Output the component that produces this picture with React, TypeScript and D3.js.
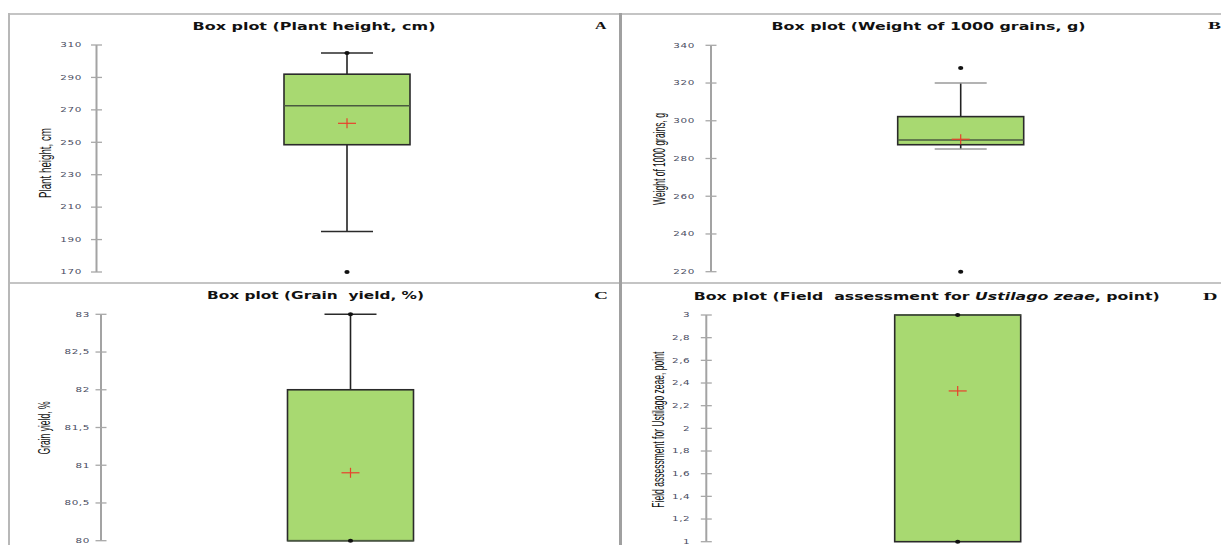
import React from "react";
import * as d3 from "d3";

// ---- data ----
const panelLetters = ["A", "B", "C", "D"];
const titles = [
  "Box plot (Plant height, cm)",
  "Box plot (Weight of 1000 grains, g)",
  "Box plot (Grain  yield, %)",
  "Box plot (Field  assessment for |Ustilago zeae|, point)",
];
const yLabels = [
  "Plant height, cm",
  "Weight of 1000 grains, g",
  "Grain yield, %",
  "Field assessment for Ustilago zeae, point",
];
const yDomains: [number, number][] = [
  [170, 310],
  [220, 340],
  [80, 83],
  [1, 3],
];
const tickA = [170, 190, 210, 230, 250, 270, 290, 310];
const tickB = [220, 240, 260, 280, 300, 320, 340];
const tickC = [80, 80.5, 81, 81.5, 82, 82.5, 83];
const tickD = [1, 1.2, 1.4, 1.6, 1.8, 2, 2.2, 2.4, 2.6, 2.8, 3];
const ticks = [tickA, tickB, tickC, tickD];
const whiskerLow = [195, 285, 80, 1];
const q1 = [248.5, 287.3, 80, 1];
const medians = [272.5, 289.8, 80, 3];
const q3 = [292, 302.2, 82, 3];
const whiskerHigh = [305, 320, 83, 3];
const means = [261.7, 290.2, 80.9, 2.33];
const pointsA = [170, 305];
const pointsB = [220, 328];
const pointsC = [80, 83];
const pointsD = [1, 3];
const points = [pointsA, pointsB, pointsC, pointsD];

// ---- layout ----
const layout = [
  { axisX: 96.5, yTop: 45, yBot: 272, cx: 347, labelGap: 14.5, titleX: 314, titleW: 243, titleY: 30, letterX: 595, letterY: 28.5, letterW: 11.5, ylX: 45.5, ylY: 163, ylW: 70, capColor: "#2a2a2a" },
  { axisX: 711, yTop: 45.3, yBot: 271.7, cx: 960.7, labelGap: 16, titleX: 928.5, titleW: 314, titleY: 30, letterX: 1208, letterY: 28.5, letterW: 13, ylX: 659.5, ylY: 159, ylW: 92, capColor: "#9a9a9a" },
  { axisX: 101, yTop: 314.3, yBot: 540.7, cx: 350.5, labelGap: 11, titleX: 315.5, titleW: 217, titleY: 299, letterX: 594, letterY: 298.5, letterW: 14, ylX: 44.5, ylY: 428, ylW: 53, capColor: "#2a2a2a" },
  { axisX: 706.3, yTop: 315, yBot: 541.7, cx: 957.7, labelGap: 16, titleX: 926.7, titleW: 466, titleY: 300, letterX: 1203, letterY: 299.5, letterW: 14.5, ylX: 658.7, ylY: 429.7, ylW: 156, capColor: "#2a2a2a" },
];

const BOX_W = 126;
const CAP_W = 52;
const fmt = (v: number) => d3.format("~g")(v).replace(".", ",");

function Panel({ i }: { i: number }) {
  const L = layout[i];
  const y = d3.scaleLinear().domain(yDomains[i]).range([L.yBot, L.yTop]);
  const x0 = L.cx - BOX_W / 2;
  const parts = titles[i].split("|");
  return (
    <g>
      {/* title */}
      <text
        x={L.titleX - L.titleW / 2}
        y={L.titleY}
        textLength={L.titleW}
        lengthAdjust="spacingAndGlyphs"
        fontFamily="DejaVu Sans, Verdana, sans-serif"
        fontWeight="bold"
        fontSize={10}
        fill="#111"
        xmlSpace="preserve"
      >
        {parts.map((p, k) => (
          <tspan key={k} fontStyle={k === 1 ? "italic" : "normal"}>
            {p}
          </tspan>
        ))}
      </text>
      {/* panel letter */}
      <text
        x={L.letterX}
        y={L.letterY}
        textLength={L.letterW}
        lengthAdjust="spacingAndGlyphs"
        fontFamily="Liberation Serif, Times New Roman, serif"
        fontWeight="bold"
        fontSize={10.5}
        fill="#111"
      >
        {panelLetters[i]}
      </text>
      {/* y axis label */}
      <text
        transform={`translate(${L.ylX},${L.ylY}) scale(1.5,1) rotate(-90)`}
        textAnchor="middle"
        dy="0.35em"
        textLength={L.ylW}
        lengthAdjust="spacingAndGlyphs"
        fontFamily="Liberation Sans, Arial, sans-serif"
        fontSize={11}
        fill="#111"
      >
        {yLabels[i]}
      </text>
      {/* axis */}
      <line x1={L.axisX} x2={L.axisX} y1={y(yDomains[i][0])} y2={y(yDomains[i][1])} stroke="#a3a3a3" strokeWidth={2} />
      {ticks[i].map((t) => (
        <g key={t}>
          <line x1={L.axisX - 5.5} x2={L.axisX + 5.5} y1={y(t)} y2={y(t)} stroke="#a8a8a8" strokeWidth={1.3} />
          <text
            transform={`translate(${L.axisX - L.labelGap},${y(t)}) scale(1.55,1)`}
            textAnchor="end"
            dy="0.35em"
            fontFamily="DejaVu Sans, Verdana, sans-serif"
            fontSize={6.7}
            letterSpacing={0.4}
            fill="#4a4d62"
          >
            {fmt(t)}
          </text>
        </g>
      ))}
      {/* whiskers */}
      <line x1={L.cx} x2={L.cx} y1={y(whiskerHigh[i])} y2={y(q3[i])} stroke="#222" strokeWidth={1.6} />
      <line x1={L.cx} x2={L.cx} y1={y(q1[i])} y2={y(whiskerLow[i])} stroke="#222" strokeWidth={1.6} />
      {whiskerHigh[i] !== q3[i] && (
        <line x1={L.cx - CAP_W / 2} x2={L.cx + CAP_W / 2} y1={y(whiskerHigh[i])} y2={y(whiskerHigh[i])} stroke={L.capColor} strokeWidth={1.5} />
      )}
      {whiskerLow[i] !== q1[i] && (
        <line x1={L.cx - CAP_W / 2} x2={L.cx + CAP_W / 2} y1={y(whiskerLow[i])} y2={y(whiskerLow[i])} stroke={L.capColor} strokeWidth={1.5} />
      )}
      {/* box */}
      <rect x={x0} y={y(q3[i])} width={BOX_W} height={y(q1[i]) - y(q3[i])} fill="#a8d971" stroke="#2a2a2a" strokeWidth={1.6} />
      <line x1={x0} x2={x0 + BOX_W} y1={y(medians[i])} y2={y(medians[i])} stroke="#4a5a40" strokeWidth={1.6} />
      {/* mean */}
      <line x1={L.cx - 9} x2={L.cx + 9} y1={y(means[i])} y2={y(means[i])} stroke="#e8412c" strokeWidth={1.2} />
      <line x1={L.cx} x2={L.cx} y1={y(means[i]) - 5} y2={y(means[i]) + 5} stroke="#e8412c" strokeWidth={1.2} />
      {/* points */}
      {points[i].map((p, k) => (
        <ellipse key={k} cx={L.cx} cy={y(p)} rx={2.6} ry={2} fill="#111" />
      ))}
    </g>
  );
}

export default function App() {
  return (
    <svg
      width={1221}
      height={545}
      style={{ position: "absolute", left: 0, top: 0, display: "block", background: "#fff" }}
    >
      <rect x={0} y={0} width={1221} height={545} fill="#fff" />
      {/* frame lines */}
      <line x1={8} x2={1221} y1={14} y2={14} stroke="#c4c4c4" strokeWidth={2} />
      <line x1={8} x2={1221} y1={283} y2={283} stroke="#c4c4c4" strokeWidth={2} />
      <line x1={9} x2={9} y1={13} y2={545} stroke="#b8b8b8" strokeWidth={2} />
      <line x1={620.5} x2={620.5} y1={13} y2={545} stroke="#a0a0a0" strokeWidth={3} />
      {panelLetters.map((_, i) => (
        <Panel key={i} i={i} />
      ))}
    </svg>
  );
}
